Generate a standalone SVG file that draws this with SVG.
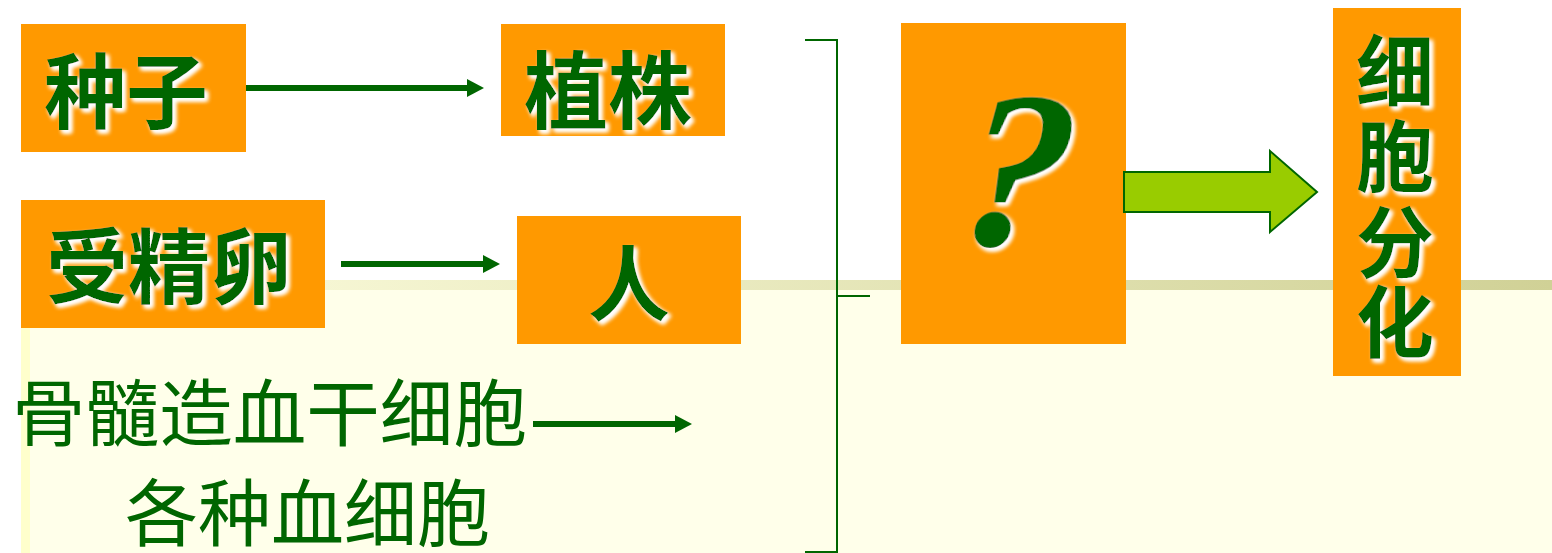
<svg xmlns="http://www.w3.org/2000/svg" width="1552" height="553" viewBox="0 0 1552 553">
  <style>
    .box { fill: #FF9900; }
    .lbl { font-family: "Noto Sans CJK SC", "Noto Sans", sans-serif; font-weight: bold; fill: #006600; text-anchor: middle; }
    .plain { font-family: "Noto Sans CJK SC", "Noto Sans", sans-serif; font-weight: normal; fill: #006600; }
    .conn { stroke: #006600; stroke-width: 6; fill: none; }
    .brk { stroke: #006600; stroke-width: 2; fill: none; }
  </style>
  <defs>
    <linearGradient id="band" x1="21" y1="0" x2="1552" y2="0" gradientUnits="userSpaceOnUse">
      <stop offset="0" stop-color="#FFFFE2"/>
      <stop offset="1" stop-color="#D0D196"/>
    </linearGradient>
    <filter id="glow" x="-20%" y="-20%" width="140%" height="140%">
      <feFlood flood-color="#FFFFFF" result="w"/>
      <feComposite in="w" in2="SourceAlpha" operator="in" result="ws"/>
      <feGaussianBlur in="ws" stdDeviation="2.2" result="b"/>
      <feOffset in="b" dx="3" dy="3" result="o"/>
      <feMerge>
        <feMergeNode in="o"/>
        <feMergeNode in="o"/>
        <feMergeNode in="SourceGraphic"/>
      </feMerge>
    </filter>
    <marker id="ah" markerUnits="userSpaceOnUse" markerWidth="17" markerHeight="18" refX="7" refY="9" orient="auto">
      <path d="M0,0 L17,9 L0,18 Z" fill="#006600"/>
    </marker>
  </defs>

  <g id="background">
    <rect x="0" y="0" width="1552" height="553" fill="#FFFFFF"/>
    <rect x="21" y="280" width="1531" height="273" fill="#FFFFEA"/>
    <rect x="21" y="280" width="9" height="273" fill="#FFFFCC"/>
    <rect x="21" y="280" width="1531" height="10" fill="url(#band)"/>
  </g>

  <g id="node-zhongzi">
    <rect class="box" x="21" y="24" width="225" height="128"/>
    <text class="lbl" x="126" y="122" font-size="82" filter="url(#glow)">种子</text>
  </g>

  <g id="node-zhizhu">
    <rect class="box" x="501" y="24" width="224" height="112"/>
    <text class="lbl" x="608" y="122" font-size="84" filter="url(#glow)">植株</text>
  </g>

  <g id="node-shoujingluan">
    <rect class="box" x="21" y="200" width="304" height="128"/>
    <text class="lbl" x="169" y="297" font-size="82" filter="url(#glow)">受精卵</text>
  </g>

  <g id="node-ren">
    <rect class="box" x="517" y="216" width="224" height="128"/>
    <text class="lbl" x="629" y="314" font-size="82" filter="url(#glow)">人</text>
  </g>

  <g id="node-guisui">
    <text class="plain" x="12" y="440" font-size="73" textLength="515" lengthAdjust="spacingAndGlyphs">骨髓造血干细胞</text>
  </g>

  <g id="node-xuexibao">
    <text class="plain" x="125" y="540" font-size="73" textLength="365" lengthAdjust="spacingAndGlyphs">各种血细胞</text>
  </g>

  <g id="node-question">
    <rect class="box" x="901" y="23" width="225" height="321"/>
    <text transform="translate(1008,245) skewX(-8)" x="0" y="0" font-family="Liberation Serif, serif" font-weight="bold" font-style="italic" font-size="222" fill="#006600" text-anchor="middle" filter="url(#glow)">?</text>
  </g>

  <g id="node-fenhua">
    <rect class="box" x="1333" y="8" width="128" height="368"/>
    <text class="lbl" x="1395" y="101" font-size="78" filter="url(#glow)">细</text>
    <text class="lbl" x="1395" y="186" font-size="78" filter="url(#glow)">胞</text>
    <text class="lbl" x="1395" y="272" font-size="78" filter="url(#glow)">分</text>
    <text class="lbl" x="1395" y="352" font-size="78" filter="url(#glow)">化</text>
  </g>

  <g id="connectors">
    <line class="conn" x1="246" y1="88" x2="474" y2="88" marker-end="url(#ah)"/>
    <line class="conn" x1="341" y1="264" x2="490" y2="264" marker-end="url(#ah)"/>
    <line class="conn" x1="533" y1="424" x2="682" y2="424" marker-end="url(#ah)"/>
    <path class="brk" d="M805,40 H837 V552 H805 M837,296 H870"/>
    <path d="M1124,172 H1270 V151 L1317,192 L1270,232 V212 H1124 Z" fill="#99CC00" stroke="#006600" stroke-width="2"/>
  </g>
</svg>
